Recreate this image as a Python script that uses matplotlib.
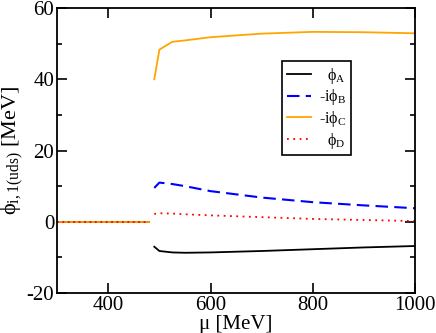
import matplotlib
matplotlib.use("Agg")
import matplotlib.pyplot as plt
from matplotlib.ticker import MultipleLocator

# -------------------------------------------------------------------
# Data
# -------------------------------------------------------------------
mu_zero = [300, 480]
phi_zero = [0, 0]

mu = [490, 500, 525, 550, 600, 700, 800, 900, 1000]
phi_a = [-7.0, -8.2, -8.6, -8.7, -8.6, -8.2, -7.7, -7.2, -6.8]
phi_b = [9.5, 11.0, 10.6, 10.0, 8.6, 6.8, 5.5, 4.6, 3.8]
phi_c = [40.0, 48.3, 50.5, 50.9, 51.8, 52.8, 53.3, 53.2, 52.9]
phi_d = [2.2, 2.4, 2.3, 2.1, 1.8, 1.3, 0.8, 0.5, 0.2]

labels = ["  ϕ$_\\mathrm{A}$", "-iϕ$_\\mathrm{B}$", "-iϕ$_\\mathrm{C}$", "  ϕ$_\\mathrm{D}$"]

plt.rcParams["font.family"] = ["Liberation Serif", "DejaVu Serif"]
plt.rcParams["mathtext.fontset"] = "custom"
plt.rcParams["mathtext.rm"] = "Liberation Serif"
plt.rcParams["mathtext.it"] = "Liberation Serif"
plt.rcParams["axes.unicode_minus"] = False

fig = plt.figure(figsize=(4.36, 3.33), dpi=100)
ax = fig.add_axes([0.131, 0.12, 0.821, 0.856])

ax.plot(mu_zero, phi_zero, color="black", lw=1.3)
ax.plot(mu_zero, phi_zero, color="orange", lw=1.3)
ax.plot(mu_zero, phi_zero, color="red", lw=1.3, ls=(0, (1, 2)))

ax.plot(mu, phi_a, color="black", lw=1.3, label=labels[0])
ax.plot(mu, phi_b, color="blue", lw=1.5, ls=(0, (6, 3)), label=labels[1])
ax.plot(mu, phi_c, color="orange", lw=1.3, label=labels[2])
ax.plot(mu, phi_d, color="red", lw=1.3, ls=(0, (1, 2.5)), label=labels[3])

ax.set_xlim(300, 1000)
ax.set_ylim(-20, 60)
ax.xaxis.set_major_locator(MultipleLocator(200))
ax.yaxis.set_major_locator(MultipleLocator(20))
ax.yaxis.set_minor_locator(MultipleLocator(10))
ax.tick_params(which="both", direction="in", top=True, right=True,
               labelsize=15, width=1.2, pad=2)
ax.tick_params(which="major", length=7)
ax.tick_params(which="minor", length=3.5)
for s in ax.spines.values():
    s.set_linewidth(1.3)

ax.set_xlabel("μ [MeV]", fontsize=15, labelpad=0)
ax.set_ylabel("ϕ$_\\mathrm{i,1(uds)}$ [MeV]", fontsize=16, labelpad=1)

leg = ax.legend(loc="upper left", bbox_to_anchor=(0.628, 0.814),
                fontsize=11.5, frameon=True, fancybox=False,
                edgecolor="black", framealpha=1, handlelength=1.5,
                handletextpad=0.5, borderpad=0.3, labelspacing=0.1,
                borderaxespad=0)
leg.get_frame().set_linewidth(1.2)

fig.savefig("out.png", dpi=100)
